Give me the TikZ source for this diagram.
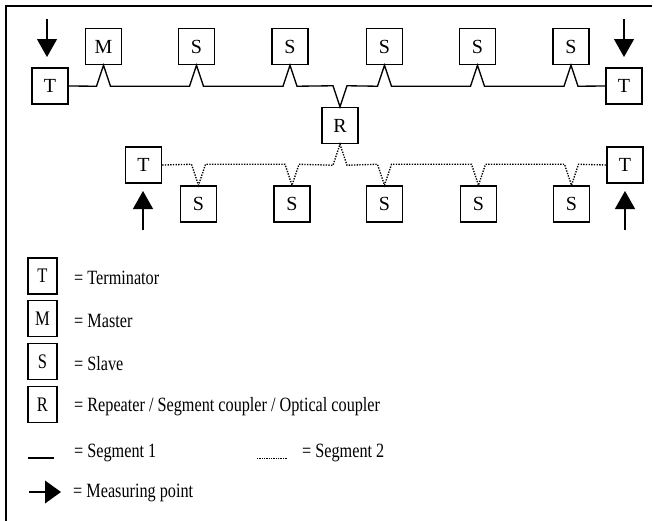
\documentclass[tikz,border=0pt]{standalone}
\usepackage{fontspec}
\setmainfont{Liberation Serif}
\usetikzlibrary{arrows.meta}
\tikzset{
  unit/.style={draw,line width=1.1pt,minimum size=27pt,inner sep=0pt,font=\fontsize{15}{17}\selectfont},
  legunit/.style={unit,xscale=0.8,font=\fontsize{15.5}{17}\selectfont},
  legtext/.style={anchor=base west,inner sep=0pt,xscale=0.8,font=\fontsize{15.2}{17}\selectfont},
  segone/.style={line width=1pt},
  segtwo/.style={line width=1pt,dash pattern=on 1pt off 1pt},
  measure/.style={line width=1pt,-{Triangle[length=13.5pt,width=15pt]}},
}
\begin{document}
\begin{tikzpicture}[x=0.75pt,y=-0.75pt]
            \useasboundingbox (0,0) rectangle (661,521);
            \draw[line width=1.6pt] (652,6) -- (6,6) -- (6,521);
            \node[unit] (tl) at (50,86) {T};
            \node[unit] (tr) at (624,86) {T};
            \node[unit] (m) at (103.5,46.5) {M};
            \foreach \i/\x in {1/196.5,2/290,3/384.5,4/477.5,5/571}
              \node[unit] (s\i) at (\x,46.5) {S};
            \node[unit] (r) at (340,125.5) {R};
            \node[unit] (bl) at (143.5,165) {T};
            \node[unit] (br) at (625,165) {T};
            \foreach \i/\x in {6/198.5,7/292,8/384.5,9/478.5,10/571.5}
              \node[unit] (s\i) at (\x,204) {S};
            \draw[segone] (tl.east) \foreach \n/\a/\d in {m/south/-15.75pt,s1/south/-15.75pt,s2/south/-15.75pt,r/north/15.75pt,s3/south/-15.75pt,s4/south/-15.75pt,s5/south/-15.75pt}{
              -- ([xshift=-5.25pt,yshift=\d]\n.\a) -- (\n.\a) -- ([xshift=5.25pt,yshift=\d]\n.\a)} -- (tr.west);
            \draw[segtwo] (bl.east) \foreach \n/\a/\d in {s6/north/15.75pt,s7/north/15.75pt,r/south/-15.75pt,s8/north/15.75pt,s9/north/15.75pt,s10/north/15.75pt}{
              -- ([xshift=-5.25pt,yshift=\d]\n.\a) -- (\n.\a) -- ([xshift=5.25pt,yshift=\d]\n.\a)} -- (br.west);
            \coordinate (mp1) at (47,19);
            \coordinate (tip1) at (47,57);
            \coordinate (mp2) at (624,19);
            \coordinate (tip2) at (624,57);
            \coordinate (mp3) at (143,230);
            \coordinate (tip3) at (143,191);
            \coordinate (mp4) at (625,230);
            \coordinate (tip4) at (625,191);
            \foreach \i in {1,...,4}
              \draw[measure] (mp\i) -- (tip\i);
            \node[legunit] (lt) at (42.5,276) {T};
            \node[legunit] (lm) at (42.5,318.5) {M};
            \node[legunit] (ls) at (42.5,361.5) {S};
            \node[legunit] (lr) at (42.5,404.5) {R};
            \node[legtext] (ltt) at (74,284) {= Terminator};
            \node[legtext] (lmt) at (74,327) {= Master};
            \node[legtext] (lst) at (74,370) {= Slave};
            \node[legtext] (lrt) at (74,411) {= Repeater / Segment coupler / Optical coupler};
            \coordinate (lone) at (28,458);
            \coordinate (lonee) at (54,458);
            \draw[line width=1.1pt] (lone) -- (lonee);
            \node[legtext] (lonet) at (74,457) {= Segment 1};
            \coordinate (ltwo) at (257,458);
            \coordinate (ltwoe) at (287,458);
            \draw[line width=0.5pt,dash pattern=on 0.5pt off 0.8pt] (ltwo) -- (ltwoe);
            \node[legtext] (ltwot) at (302,457) {= Segment 2};
            \coordinate (lmp) at (29,492);
            \coordinate (lmpe) at (61,492);
            \draw[line width=1.1pt,-{Triangle[length=12pt,width=17pt]}] (lmp) -- (lmpe);
            \node[legtext] (lmpt) at (73,497) {= Measuring point};
\end{tikzpicture}
\end{document}
